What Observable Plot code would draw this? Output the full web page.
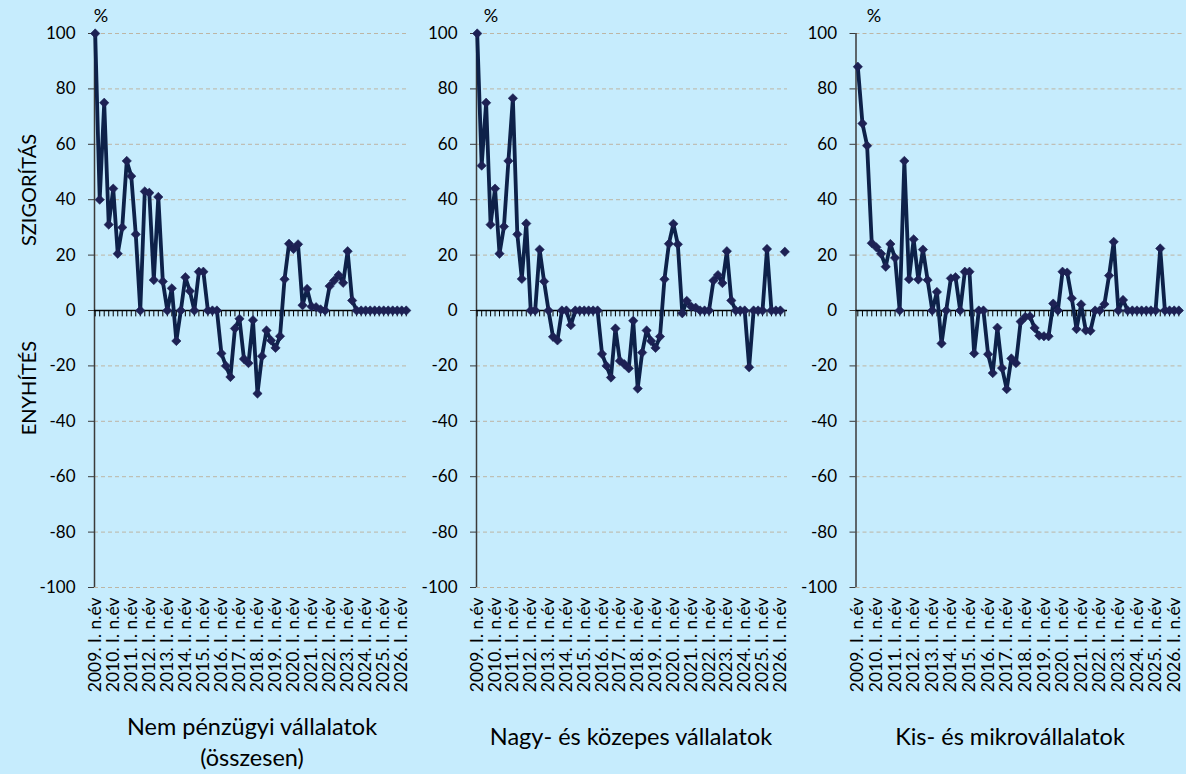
<!DOCTYPE html>
<html>
<head>
<meta charset="utf-8">
<script src="https://cdn.jsdelivr.net/npm/d3@7"></script>
<script src="https://cdn.jsdelivr.net/npm/@observablehq/plot@0.6"></script>
<style>
  html, body { margin: 0; padding: 0; background: #c6ecfd; }
  #chart { position: relative; width: 1186px; height: 774px; background: #c6ecfd; overflow: hidden;
           font-family: Lato, "Open Sans", sans-serif; color: #000; }
  .panel { position: absolute; top: 0; }
  .lbl { position: absolute; white-space: nowrap; transform: translate(-50%, -50%); line-height: 1; }
  .rot { transform: translate(-50%, -50%) rotate(-90deg); }
  .title { position: absolute; text-align: center; transform: translate(-50%, 0); font-size: 23.5px; line-height: 31px; white-space: nowrap; }
</style>
</head>
<body>
<div id="chart"></div>
<script>
// ---- data ----
const years = [2009, 2010, 2011, 2012, 2013, 2014, 2015, 2016, 2017, 2018, 2019, 2020, 2021, 2022, 2023, 2024, 2025, 2026];
const quarterNames = ["I.", "II.", "III.", "IV."];
const categories = years.flatMap(y => quarterNames.map(q => `${y}. ${q} n.év`)).slice(0, 70);
const tickLabels = years.map(y => `${y}. I. n.év`);
const yTicks = [-100, -80, -60, -40, -20, 0, 20, 40, 60, 80, 100];

const panelTitles = [["Nem pénzügyi vállalatok", "(összesen)"], ["Nagy- és közepes vállalatok"], ["Kis- és mikrovállalatok"]];

const nemPenzugyi = [100, 40, 75, 31, 44, 20.5, 30, 54, 48.5, 27.5,
  0, 43, 42.5, 11, 41, 10.5, 0, 8, -11, 0,
  12, 7, 0, 14, 14, 0, 0, 0, -15.5, -20,
  -24, -6.5, -3, -17.5, -19, -3.5, -30, -16.5, -7.2, -10.8,
  -13.5, -9.3, 11.3, 24.1, 22.2, 23.9, 1.9, 7.8, 1.4, 1.2,
  0.4, 0, 8.8, 10.8, 12.8, 10, 21.4, 3.6, 0, 0,
  0, 0, 0, 0, 0, 0, 0, 0, 0, 0];

const nagyKozepes = [100, 52.3, 75, 31, 44, 20.5, 30.3, 54, 76.6, 27.5,
  11.4, 31.4, 0, 0, 22, 10.5, 0, -9.5, -10.8, 0,
  0, -5.3, 0, 0, 0, 0, 0, 0, -15.7, -20,
  -24.2, -6.5, -18.2, -19.4, -20.9, -3.7, -28.2, -15.2, -7.2, -11,
  -13.5, -9.4, 11.3, 24.1, 31.3, 23.9, -1, 3.5, 1.4, 1,
  0, 0, 0, 10.8, 12.8, 9.9, 21.4, 3.6, 0, 0,
  0, -20.5, 0, 0, 0, 22.2, 0, 0, 0, 21.2];

const kisMikro = [88, 67.5, 59.5, 24.3, 22.8, 20.5, 15.8, 24, 19, 0,
  54, 11.3, 25.7, 11.2, 22, 11, 0, 6.7, -11.9, 0,
  11.6, 12, 0, 14, 14, -15.5, 0, 0, -15.8, -22.6,
  -6.2, -20.8, -28.4, -17.3, -19, -4, -2.3, -2.1, -6.3, -9.1,
  -9.3, -9.3, 2.5, 0, 14, 13.7, 4.4, -6.7, 2.2, -7.2,
  -7.3, 0, 0, 2.3, 12.6, 24.8, 0, 3.8, 0, 0,
  0, 0, 0, 0, 0, 22.4, 0, 0, 0, 0];

// ---- layout per panel ----
const panels = [
  {values: nemPenzugyi, left: 0, width: 420, marginLeft: 94, marginRight: 12, domain: [-0.155, 69.5], title: panelTitles[0], titleX: 252, titleY: 711, pctX: 101},
  {values: nagyKozepes, left: 382, width: 420, marginLeft: 94, marginRight: 15, domain: [-0.16, 69.6], title: panelTitles[1], titleX: 631, titleY: 721, pctX: 491},
  {values: kisMikro, left: 764, width: 422, marginLeft: 91.5, marginRight: 3, domain: [-0.39, 70.0], title: panelTitles[2], titleX: 1010, titleY: 721, pctX: 874}
];

const chart = document.getElementById("chart");
const lineColor = "#0d2149";
const markColor = "#1d2154";

for (const p of panels) {
  const rows = categories.map((c, i) => ({i, cat: c, v: p.values[i]}));
  const lineRows = rows.slice(0, 69);          // connected observations
  const ticksRows = rows.filter(r => r.i % 4 === 0).map((r, k) => ({...r, label: tickLabels[k]}));
  const plot = Plot.plot({
    width: p.width,
    height: 774,
    marginLeft: p.marginLeft,
    marginRight: p.marginRight,
    marginTop: 33,
    marginBottom: 187,
    style: {background: "transparent", fontFamily: "Lato, 'Open Sans', sans-serif", color: "#000", overflow: "visible"},
    x: {type: "linear", domain: p.domain, axis: null},
    y: {domain: [-100, 100], axis: null},
    marks: [
      Plot.ruleY(yTicks.filter(v => v !== 0), {stroke: "#bdb5a4", strokeWidth: 1, strokeDasharray: "4,3"}),
      Plot.axisY({ticks: yTicks, tickSize: 6, tickPadding: 13, fontSize: 17, stroke: "#3a3a3a", tickFormat: d => String(d), label: null}),
      Plot.ruleX([p.domain[0]], {y1: -100, y2: 100, stroke: "#3a3a3a", strokeWidth: 1.5}),
      Plot.ruleY([0], {stroke: "#000", strokeWidth: 1.5}),
      Plot.ruleX(rows, {x: "i", y1: 0, y2: -2.3, stroke: "#000", strokeWidth: 1}),
      Plot.line(lineRows, {x: "i", y: "v", stroke: lineColor, strokeWidth: 3.8, strokeLinejoin: "round"}),
      Plot.dot(rows, {x: "i", y: "v", symbol: "diamond2", r: 4.2, fill: markColor, stroke: markColor, strokeWidth: 0.6}),
      Plot.text(ticksRows, {x: "i", y: -100, text: "label", dy: 10, rotate: -90, textAnchor: "end", fontSize: 17.5, fill: "#000"})
    ]
  });
  plot.classList.add("panel");
  plot.style.left = p.left + "px";
  chart.appendChild(plot);

  const pct = document.createElement("div");
  pct.className = "lbl";
  pct.style.left = p.pctX + "px";
  pct.style.top = "15px";
  pct.style.fontSize = "18px";
  pct.textContent = "%";
  chart.appendChild(pct);

  const t = document.createElement("div");
  t.className = "title";
  t.style.left = p.titleX + "px";
  t.style.top = p.titleY + "px";
  t.innerHTML = p.title.join("<br>");
  chart.appendChild(t);
}

for (const [txt, cy] of [["SZIGORÍTÁS", 190], ["ENYHÍTÉS", 388]]) {
  const d = document.createElement("div");
  d.className = "lbl rot";
  d.style.left = "28px";
  d.style.top = cy + "px";
  d.style.fontSize = "20px";
  d.textContent = txt;
  chart.appendChild(d);
}
</script>
</body>
</html>
